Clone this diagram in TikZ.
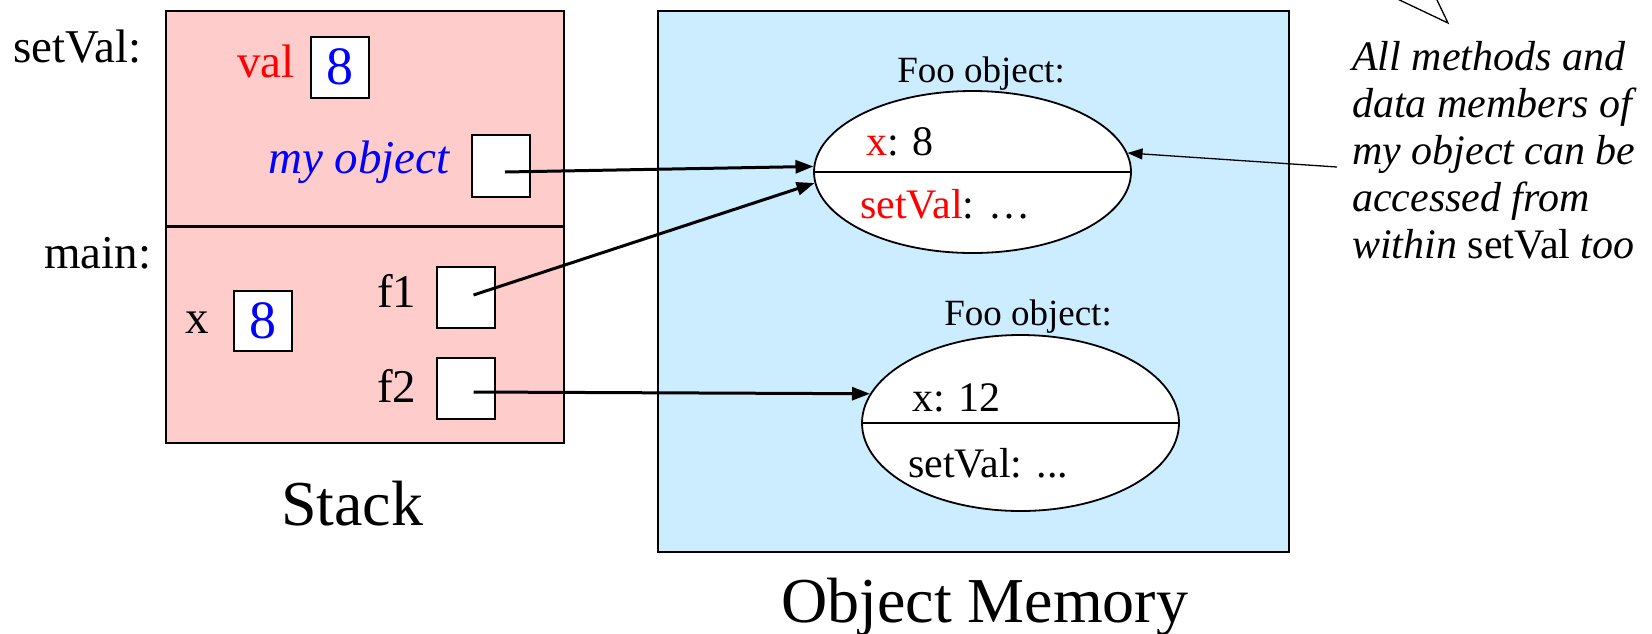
\documentclass[tikz,border=0pt]{standalone}
\usepackage{fontspec}
\setmainfont{Liberation Serif}
\usetikzlibrary{arrows.meta,shapes.geometric,calc}

\definecolor{stackpink}{HTML}{FFCCCC}
\definecolor{mempale}{HTML}{CCECFF}
\definecolor{vred}{HTML}{FF0000}
\definecolor{vblue}{HTML}{0000FF}
\newcommand\sz[1]{\fontsize{#1}{#1}\selectfont}

\begin{document}
\begin{tikzpicture}[x=1pt,y=-1pt,
  region/.style={draw, line width=2pt, inner sep=0pt},
  cell/.style={draw, fill=white, line width=1.5pt, minimum width=58pt,
               minimum height=61pt, inner sep=0pt, text=vblue, font=\sz{54}},
  obj/.style={ellipse, draw, fill=white, line width=1.8pt, inner sep=0pt,
              minimum width=317pt},
  lbl/.style={anchor=base west, inner sep=0pt, font=\sz{42}},
  slbl/.style={anchor=base west, inner sep=0pt, font=\sz{47}},
  title/.style={anchor=base, inner sep=0pt, font=\sz{37}},
  big/.style={anchor=base west, inner sep=0pt, font=\sz{64}},
  note/.style={anchor=base west, inner sep=0pt, font=\sz{42}\itshape},
  ptr/.style={line width=3pt, -{Triangle[length=18pt,width=13pt]}},
  thin ptr/.style={line width=1.3pt, -{Triangle[length=15pt,width=11pt]}}]
\useasboundingbox (0,0) rectangle (1652,633);

% stack frames and object memory
\node[region, fill=stackpink, minimum width=398pt, minimum height=432pt] (stack) at (365,226.7) {};
\draw[line width=3pt] (stack.west) -- (stack.east);
\node[region, fill=mempale, minimum width=631pt, minimum height=541pt] (mem) at (973.5,281.3) {};

% frame labels
\node[slbl] (lsetval) at (13,62) {setVal:};
\node[slbl] (lmain) at (44,268) {main:};

% setVal frame
\node[slbl, text=vred] (lval) at (237,77) {val};
\node[cell] (valbox) at (340,67.3) {8};
\node[slbl, text=vblue, font=\sz{47}\itshape] (lobj) at (268,173) {my object};
\node[cell, minimum height=62pt] (objbox) at (501,166) {};

% main frame
\node[slbl] (lx) at (185,333) {x};
\node[cell, minimum height=60pt] (xbox) at (263,321) {8};
\node[slbl] (lf1) at (377,307) {f1};
\node[cell] (f1box) at (466,297.5) {};
\node[slbl] (lf2) at (377,402) {f2};
\node[cell] (f2box) at (466,388.5) {};

% first Foo object
\node[title] (t1) at (981,82) {Foo object:};
\node[obj, minimum height=162pt] (obj1) at (972.5,172) {};
\draw[line width=1.8pt] (obj1.west) -- (obj1.east);
\node[lbl] (o1x) at (866,155) {\textcolor{vred}{x}: 8};
\node[lbl] (o1m) at (860,218) {\textcolor{vred}{setVal}: …};

% second Foo object
\node[title] (t2) at (1028,325) {Foo object:};
\node[obj, minimum height=176pt] (obj2) at (1020.5,423) {};
\draw[line width=1.8pt] (obj2.west) -- (obj2.east);
\node[lbl] (o2x) at (912,411) {x: 12};
\node[lbl] (o2m) at (908,477) {setVal: ...};

% area captions
\node[big] (cstack) at (281,525) {Stack};
\node[big] (cmem) at (781,622) {Object Memory};

% references
\draw[ptr] ($(objbox.center)+(4,6)$) -- (obj1.178);
\draw[ptr] ($(f1box.center)+(7.5,-2.5)$) -- (obj1.184);
\draw[ptr] ($(f2box.center)+(7.5,3.5)$) -- (obj2.169);

% callout
\draw[line width=1.3pt, fill=white] (1389,-5) -- (1448,23) -- (1434.6,-5);
\node[note] (n1) at (1352,70) {All methods and};
\node[note] (n2) at (1352,117) {data members of};
\node[note] (n3) at (1352,164) {my object can be};
\node[note] (n4) at (1352,211) {accessed from};
\node[note] (n5) at (1352,258) {within \upshape setVal \itshape too};
\coordinate (nfoot) at (1337,167);
\draw[thin ptr] (nfoot) -- (obj1.7);
\end{tikzpicture}
\end{document}
